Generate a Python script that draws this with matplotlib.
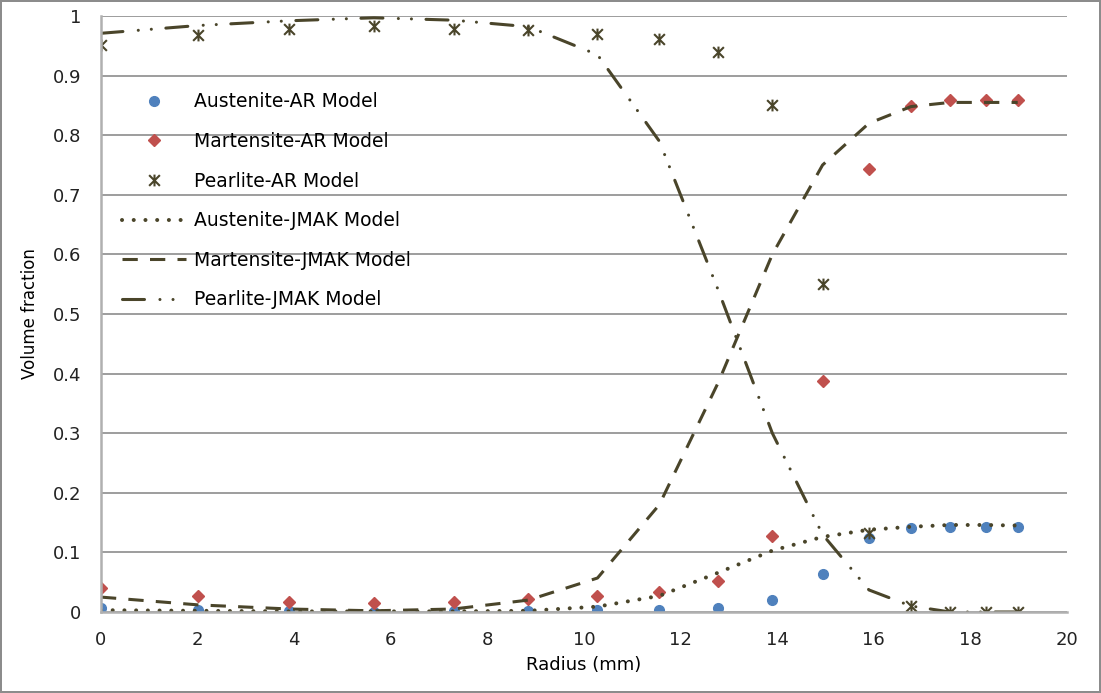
import matplotlib
matplotlib.use("Agg")
import matplotlib.pyplot as plt
from matplotlib.path import Path
import numpy as np

# radius positions (mm) shared by every series
radius = [0, 2.0, 3.9, 5.65, 7.3, 8.85, 10.28, 11.56, 12.78, 13.9,
          14.94, 15.9, 16.77, 17.58, 18.32, 18.98]

# AR model (markers)
austenite_ar = [0.007, 0.004, 0.001, 0.0, 0.001, 0.002, 0.003, 0.003,
                0.007, 0.02, 0.064, 0.124, 0.141, 0.142, 0.142, 0.142]
martensite_ar = [0.041, 0.027, 0.017, 0.015, 0.017, 0.022, 0.027, 0.034,
                 0.052, 0.128, 0.388, 0.743, 0.849, 0.859, 0.859, 0.859]
pearlite_ar = [0.951, 0.968, 0.979, 0.983, 0.979, 0.977, 0.970, 0.961,
               0.940, 0.851, 0.550, 0.133, 0.010, 0.0, 0.0, 0.0]

# JMAK model (lines)
austenite_jmak = [0.003, 0.002, 0.001, 0.001, 0.001, 0.002, 0.009, 0.027,
                  0.066, 0.103, 0.126, 0.138, 0.143, 0.146, 0.146, 0.145]
martensite_jmak = [0.025, 0.012, 0.005, 0.002, 0.005, 0.02, 0.057, 0.18,
                   0.385, 0.60, 0.75, 0.82, 0.848, 0.855, 0.855, 0.855]
pearlite_jmak = [0.971, 0.984, 0.992, 0.997, 0.993, 0.982, 0.935, 0.79,
                 0.54, 0.30, 0.13, 0.037, 0.01, 0.0, 0.0, 0.0]

blue = '#4f81bd'
red = '#c0504d'
olive = '#4a452a'
grid = '#8c8c8c'

# excel style star: x with a vertical bar
star = Path([(-1, -1), (1, 1), (-1, 1), (1, -1), (0, -1.1), (0, 1.1)],
            [Path.MOVETO, Path.LINETO, Path.MOVETO, Path.LINETO,
             Path.MOVETO, Path.LINETO])

fig = plt.figure(figsize=(11.01, 6.93), dpi=100)
fig.patch.set_edgecolor('#8c8c8c')
fig.patch.set_linewidth(1.5)
ax = fig.add_axes([0.0917, 0.1169, 0.9691 - 0.0917, 0.9769 - 0.1169])

ax.plot(radius, austenite_ar, 'o', color=blue, markersize=7, label='Austenite-AR Model')
ax.plot(radius, martensite_ar, 'D', color=red, markersize=6.5, label='Martensite-AR Model')
ax.plot(radius, pearlite_ar, linestyle='none', marker=star, markersize=8.5,
        markeredgecolor=olive, markeredgewidth=1.5, color=olive, label='Pearlite-AR Model')

ax.plot(radius, austenite_jmak, color=olive, lw=2.9, linestyle=(0, (0.01, 2.9)),
        dash_capstyle='round', label='Austenite-JMAK Model')
ax.plot(radius, martensite_jmak, color=olive, lw=2.2, linestyle=(0, (5, 4)),
        label='Martensite-JMAK Model')
ax.plot(radius, pearlite_jmak, color=olive, lw=2.2,
        linestyle=(0, (7.2, 5.05, 0.01, 4.27, 0.01, 4.77)),
        dash_capstyle='round', label='Pearlite-JMAK Model')

ax.set_xlim(0, 20)
ax.set_ylim(0, 1)
ax.set_xticks(np.arange(0, 21, 2))
ax.set_yticks(np.arange(0, 1.01, 0.1))
ax.set_yticklabels(['0', '0.1', '0.2', '0.3', '0.4', '0.5', '0.6', '0.7', '0.8', '0.9', '1'])
ax.yaxis.grid(True, color=grid, lw=1.2)
ax.set_axisbelow(True)
for s in ['top', 'right']:
    ax.spines[s].set_visible(False)
for s in ['left', 'bottom']:
    ax.spines[s].set_color('#b0b0b0')
    ax.spines[s].set_linewidth(1.8)
ax.tick_params(length=0, pad=14, labelsize=13, colors='#222222')

ax.set_xlabel('Radius (mm)', fontsize=13, labelpad=5)
ax.set_ylabel('Volume fraction', fontsize=12, labelpad=10)

ax.legend(loc='upper left', bbox_to_anchor=(0.022, 0.872), frameon=False,
          fontsize=13.5, handlelength=3.4, handletextpad=0.45, labelspacing=1.1,
          borderpad=0, borderaxespad=0)

fig.savefig('out.png', dpi=100)
